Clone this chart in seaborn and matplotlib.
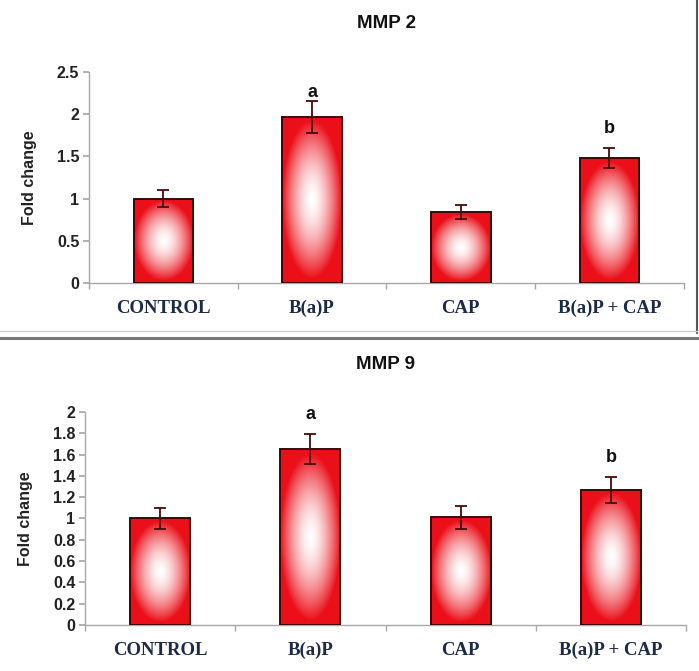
import numpy as np
import pandas as pd
import matplotlib
matplotlib.use("Agg")
import matplotlib.pyplot as plt
import seaborn as sns
from matplotlib.lines import Line2D
from matplotlib.ticker import FuncFormatter

# ---------- Data ----------
groups = ["CONTROL", "B(a)P", "CAP", "B(a)P + CAP"]

mmp2_fold = [1.00, 1.97, 0.84, 1.48]
mmp2_err = [0.10, 0.19, 0.08, 0.12]
mmp2_marks = ["", "a", "", "b"]

mmp9_fold = [1.00, 1.65, 1.01, 1.27]
mmp9_err = [0.10, 0.14, 0.11, 0.12]
mmp9_marks = ["", "a", "", "b"]

mmp2_ticks = [0, 0.5, 1, 1.5, 2, 2.5]
mmp9_ticks = [0, 0.2, 0.4, 0.6, 0.8, 1, 1.2, 1.4, 1.6, 1.8, 2]

# ---------- Style ----------
sns.set_theme(style="white")
plt.rcParams["font.family"] = ["Liberation Sans", "DejaVu Sans"]

RED = np.array([0.92, 0.06, 0.10])
AXIS_GREY = "#a8a8a8"
NAVY = "#1b2a47"


def gradient_image(n=160):
    # white centre fading to red at the edges
    yy, xx = np.mgrid[-1:1:n * 1j, -1:1:n * 1j]
    d = np.sqrt(xx ** 2 + (yy * 1.05) ** 2)
    t = np.clip(d, 0, 1) ** 1.6
    img = np.ones((n, n, 3)) * (1 - t[..., None]) + RED * t[..., None]
    return img


def draw_panel(ax, title, vals, errs, marks, ticks, mark_offsets, title_y):
    df = pd.DataFrame({"group": groups, "fold": vals})
    sns.barplot(data=df, x="group", y="fold", ax=ax, width=0.4,
                color="white", edgecolor="#3a0808", linewidth=1.4,
                errorbar=None)
    img = gradient_image()
    for p in ax.patches:
        x0, y0 = p.get_x(), p.get_y()
        w, h = p.get_width(), p.get_height()
        p.set_facecolor("none")
        p.set_zorder(3)
        im = ax.imshow(img, extent=[x0, x0 + w, y0, y0 + h], aspect="auto",
                       zorder=2, interpolation="bilinear")
        im.set_clip_path(p)

    xs = np.arange(len(groups))
    ax.errorbar(xs, vals, yerr=errs, fmt="none", ecolor="#4a0a0a",
                elinewidth=1.3, capsize=4, capthick=1.3, zorder=4)

    for x, v, e, m, off in zip(xs, vals, errs, marks, mark_offsets):
        if m:
            ax.annotate(m, (x, v + e), xytext=(0, off), textcoords="offset points",
                        ha="center", va="baseline", fontsize=13,
                        fontweight="bold", color="#111111")

    ax.set_xlim(-0.5, len(groups) - 0.5)
    ax.set_ylim(ticks[0], ticks[-1])
    ax.set_yticks(ticks)
    ax.yaxis.set_major_formatter(FuncFormatter(lambda v, _: f"{v:g}"))
    ax.set_xticks(np.arange(-0.5, len(groups), 1.0), minor=True)
    ax.tick_params(axis="x", which="major", length=0, pad=12)
    ax.tick_params(axis="x", which="minor", length=4, color=AXIS_GREY, direction="out",
                   bottom=True)
    ax.tick_params(axis="y", length=4, color=AXIS_GREY, direction="out", left=True,
                   labelsize=11.5, pad=3)
    for lab in ax.get_yticklabels():
        lab.set_fontweight("bold")
        lab.set_color("#222222")
    ax.set_xticks(xs)
    ax.set_xticklabels(groups, fontfamily="Liberation Serif", fontweight="bold",
                       fontsize=13.5, color=NAVY)

    sns.despine(ax=ax)
    for s in ("left", "bottom"):
        ax.spines[s].set_color(AXIS_GREY)
        ax.spines[s].set_linewidth(1.0)

    ax.set_xlabel("")
    ax.set_ylabel("Fold change", fontsize=11.5, fontweight="bold", color="#222222",
                  labelpad=14)
    ax.set_title(title, fontsize=13.5, fontweight="bold", color="#111111", y=title_y)


fig = plt.figure(figsize=(6.99, 6.71), dpi=100)

ax_top = fig.add_axes([0.1273, 0.5782, 0.851, 0.3145])
draw_panel(ax_top, "MMP 2", mmp2_fold, mmp2_err, mmp2_marks, mmp2_ticks,
           [0, 3, 0, 10.5], 1.167)

ax_bot = fig.add_axes([0.1216, 0.0686, 0.86, 0.3174])
draw_panel(ax_bot, "MMP 9", mmp9_fold, mmp9_err, mmp9_marks, mmp9_ticks,
           [0, 11, 0, 10.5], 1.162)

# frame around upper panel and separator
fig.add_artist(Line2D([697 / 699, 697 / 699], [1, 1 - 333 / 671], transform=fig.transFigure,
                      color="#555555", lw=1.5))
fig.add_artist(Line2D([0, 697 / 699], [1 - 331 / 671, 1 - 331 / 671], transform=fig.transFigure,
                      color="#cccccc", lw=1.0))
fig.add_artist(Line2D([0, 1], [1 - 338 / 671, 1 - 338 / 671], transform=fig.transFigure,
                      color="#777777", lw=2.2))

fig.savefig("out.png", dpi=100)
